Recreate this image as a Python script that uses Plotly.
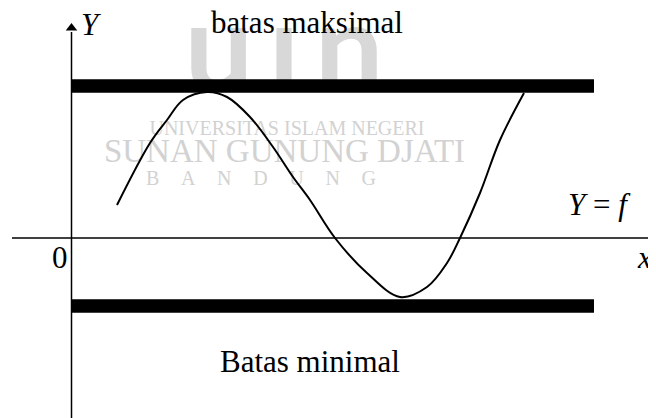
import plotly.graph_objects as go

# hand-drawn curve f(x)
curve_x = [0.91, 1.57, 1.91, 2.23, 2.71, 3.11, 3.57, 4.03, 4.43, 4.77, 5.27,
           5.91, 6.57, 7.11, 7.51, 7.77, 8.17, 8.57, 9.05]
curve_y = [0.66, 1.90, 2.36, 2.76, 2.92, 2.82, 2.42, 1.82, 1.22, 0.76, 0.0,
           -0.70, -1.18, -0.98, -0.50, 0.0, 0.90, 1.96, 2.90]

# bounds
upper_bound = 3.04
lower_bound = -1.36
bound_x = [0, 10.45]

# axis extents
x_axis = [-1.19, 11.69]
y_axis = [-3.6, 4.12]

serif = "Liberation Serif"
wm_grey = "#d2d2d2"

fig = go.Figure()

# watermark (drawn first so it sits under everything)
fig.add_trace(go.Scatter(
    x=[4.25], y=[3.55], mode="text", text=["u\u2009\u0131\u2009n"],
    textfont=dict(family="Lato", size=122, color="#d8d8d8", weight=700),
    hoverinfo="skip",
))
fig.add_trace(go.Scatter(
    x=[4.31, 4.26, 3.79], y=[2.16, 1.68, 1.16], mode="text",
    text=["UNIVERSITAS ISLAM NEGERI", "SUNAN GUNUNG DJATI",
          "B\u2003\u200aA\u2003\u200aN\u2003\u200aD\u2003\u200aU\u2003\u200aN\u2003\u200aG"],
    textfont=dict(family=serif, size=[20, 33, 20], color=wm_grey),
    hoverinfo="skip",
))

# axes
fig.add_trace(go.Scatter(x=x_axis, y=[0, 0], mode="lines",
                         line=dict(color="black", width=1.5)))
fig.add_trace(go.Scatter(x=[0, 0], y=y_axis, mode="lines",
                         line=dict(color="black", width=1.5)))
fig.add_trace(go.Scatter(x=[0], y=[4.2], mode="markers",
                         marker=dict(symbol="triangle-up", size=10, color="black")))
fig.add_trace(go.Scatter(x=[11.64], y=[0], mode="markers",
                         marker=dict(symbol="line-ns", size=10,
                                     line=dict(color="black", width=1.5))))

# bounds
for b in [upper_bound, lower_bound]:
    fig.add_trace(go.Scatter(x=bound_x, y=[b, b], mode="lines",
                             line=dict(color="black", width=13.5)))

# the function
fig.add_trace(go.Scatter(x=curve_x, y=curve_y, mode="lines",
                         line=dict(color="black", width=2, shape="spline", smoothing=1.0)))

labels = [
    (4.71, 4.32, "batas maksimal"),
    (4.77, -2.46, "Batas minimal"),
    (0.39, 4.28, "<i>Y</i>"),
    (10.55, 0.68, "<i>Y</i> = <i>f</i>"),
    (11.45, -0.38, "<i>x</i>"),
    (-0.23, -0.38, "0"),
]
for x, y, t in labels:
    fig.add_annotation(x=x, y=y, text=t, showarrow=False,
                       font=dict(family=serif, size=31, color="black"),
                       xanchor="center", yanchor="middle")

# the page has an 8px body margin, so the figure is 8px smaller than the window
fig.update_layout(
    width=648,
    height=410,
    margin=dict(l=0, r=0, t=0, b=0),
    paper_bgcolor="white",
    plot_bgcolor="white",
    showlegend=False,
    xaxis=dict(range=[-1.27, 11.69], visible=False, fixedrange=True),
    yaxis=dict(range=[-3.6, 4.6], visible=False, fixedrange=True),
)

fig.write_html("out.html")
